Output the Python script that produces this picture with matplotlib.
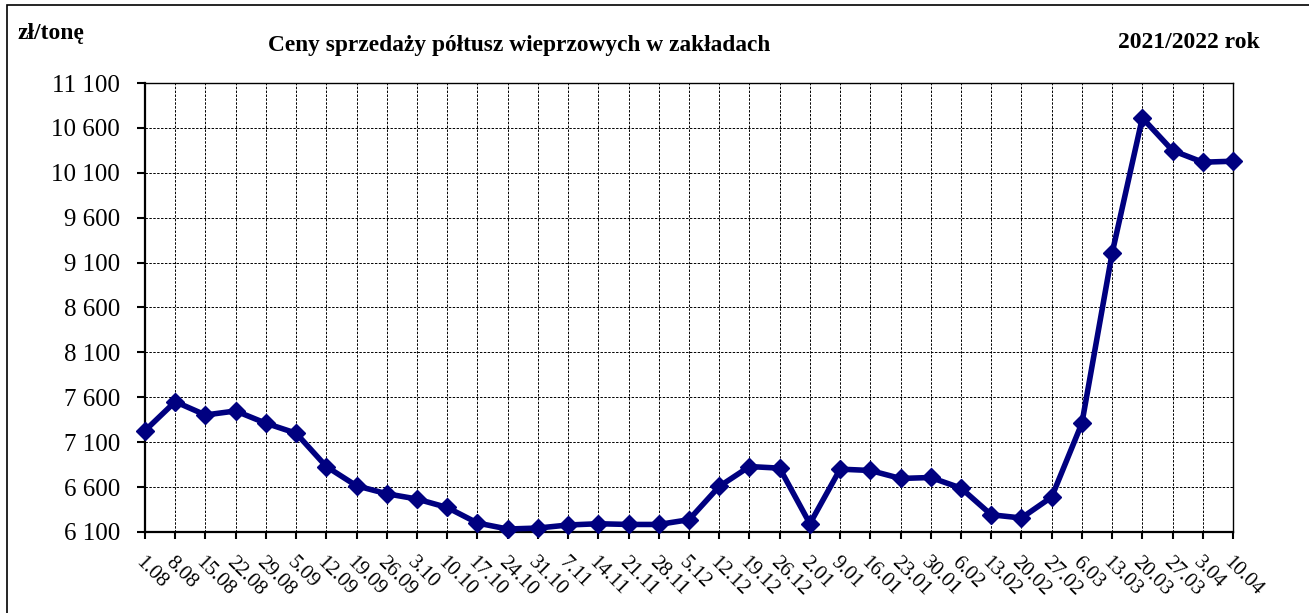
import numpy as np
import matplotlib.pyplot as plt
from matplotlib.patches import Rectangle
from matplotlib.transforms import ScaledTranslation

plt.rcParams['font.family'] = ['Liberation Serif', 'DejaVu Serif']

dates = ['1.08', '8.08', '15.08', '22.08', '29.08', '5.09', '12.09', '19.09', '26.09',
         '3.10', '10.10', '17.10', '24.10', '31.10', '7.11', '14.11', '21.11', '28.11',
         '5.12', '12.12', '19.12', '26.12', '2.01', '9.01', '16.01', '23.01', '30.01',
         '6.02', '13.02', '20.02', '27.02', '6.03', '13.03', '20.03', '27.03', '3.04', '10.04']
prices = [7229, 7551, 7403, 7448, 7311, 7200, 6829, 6614, 6526,
          6467, 6373, 6200, 6133, 6144, 6178, 6192, 6184, 6184,
          6237, 6607, 6829, 6811, 6192, 6800, 6785, 6696, 6707,
          6589, 6292, 6256, 6489, 7311, 9204, 10711, 10348, 10218, 10229]
yticks = [6100, 6600, 7100, 7600, 8100, 8600, 9100, 9600, 10100, 10600, 11100]
yticklabels = ['6 100', '6 600', '7 100', '7 600', '8 100', '8 600', '9 100', '9 600',
               '10 100', '10 600', '11 100']

W, H = 1309, 613
fig = plt.figure(figsize=(W / 100, H / 100), dpi=100)
ax = fig.add_axes([145 / W, 1 - 532 / H, (1233 - 145) / W, (532 - 83) / H])

x = np.arange(len(dates))
ax.plot(x, prices, color='#000080', lw=4, marker='D', markersize=9,
        clip_on=False, zorder=5)

ax.set_xlim(0, len(dates) - 1)
ax.set_ylim(6100, 11100)
ax.set_yticks(yticks)
ax.set_yticklabels(yticklabels, fontsize=18)
ax.set_xticks(x)
ax.set_xticklabels(dates, fontsize=15, rotation=-45, ha='left', va='top',
                   rotation_mode='anchor')
# nudge the slanted labels a little to the right
shift = ScaledTranslation(5 / 100, 0, fig.dpi_scale_trans)
for lab in ax.get_xticklabels():
    lab.set_transform(lab.get_transform() + shift)

ax.tick_params(axis='y', direction='out', length=6, width=1.5, pad=12)
ax.tick_params(axis='x', direction='out', length=5, width=1.5, pad=10)
ax.grid(True, color='black', linestyle=(0, (2.5, 1.5)), linewidth=0.7)

for side in ['left', 'bottom']:
    ax.spines[side].set_linewidth(1.6)
for side in ['top', 'right']:
    ax.spines[side].set_linewidth(1.0)

fig.text(17 / W, 1 - 33 / H, 'zł/tonę', fontsize=17, fontweight='bold', va='center')
fig.text(519 / W, 1 - 46 / H, 'Ceny sprzedaży półtusz wieprzowych w zakładach',
         fontsize=16.8, fontweight='bold', ha='center', va='center')
fig.text(1260 / W, 1 - 42 / H, '2021/2022 rok', fontsize=17, fontweight='bold',
         ha='right', va='center')

# outer frame, cut off at right and bottom
fig.patches.append(Rectangle((7 / W, -0.2), 1.0, 1 - 5 / H + 0.2,
                             transform=fig.transFigure, fill=False,
                             edgecolor='black', linewidth=1.2))

fig.savefig('out.png', dpi=100)
